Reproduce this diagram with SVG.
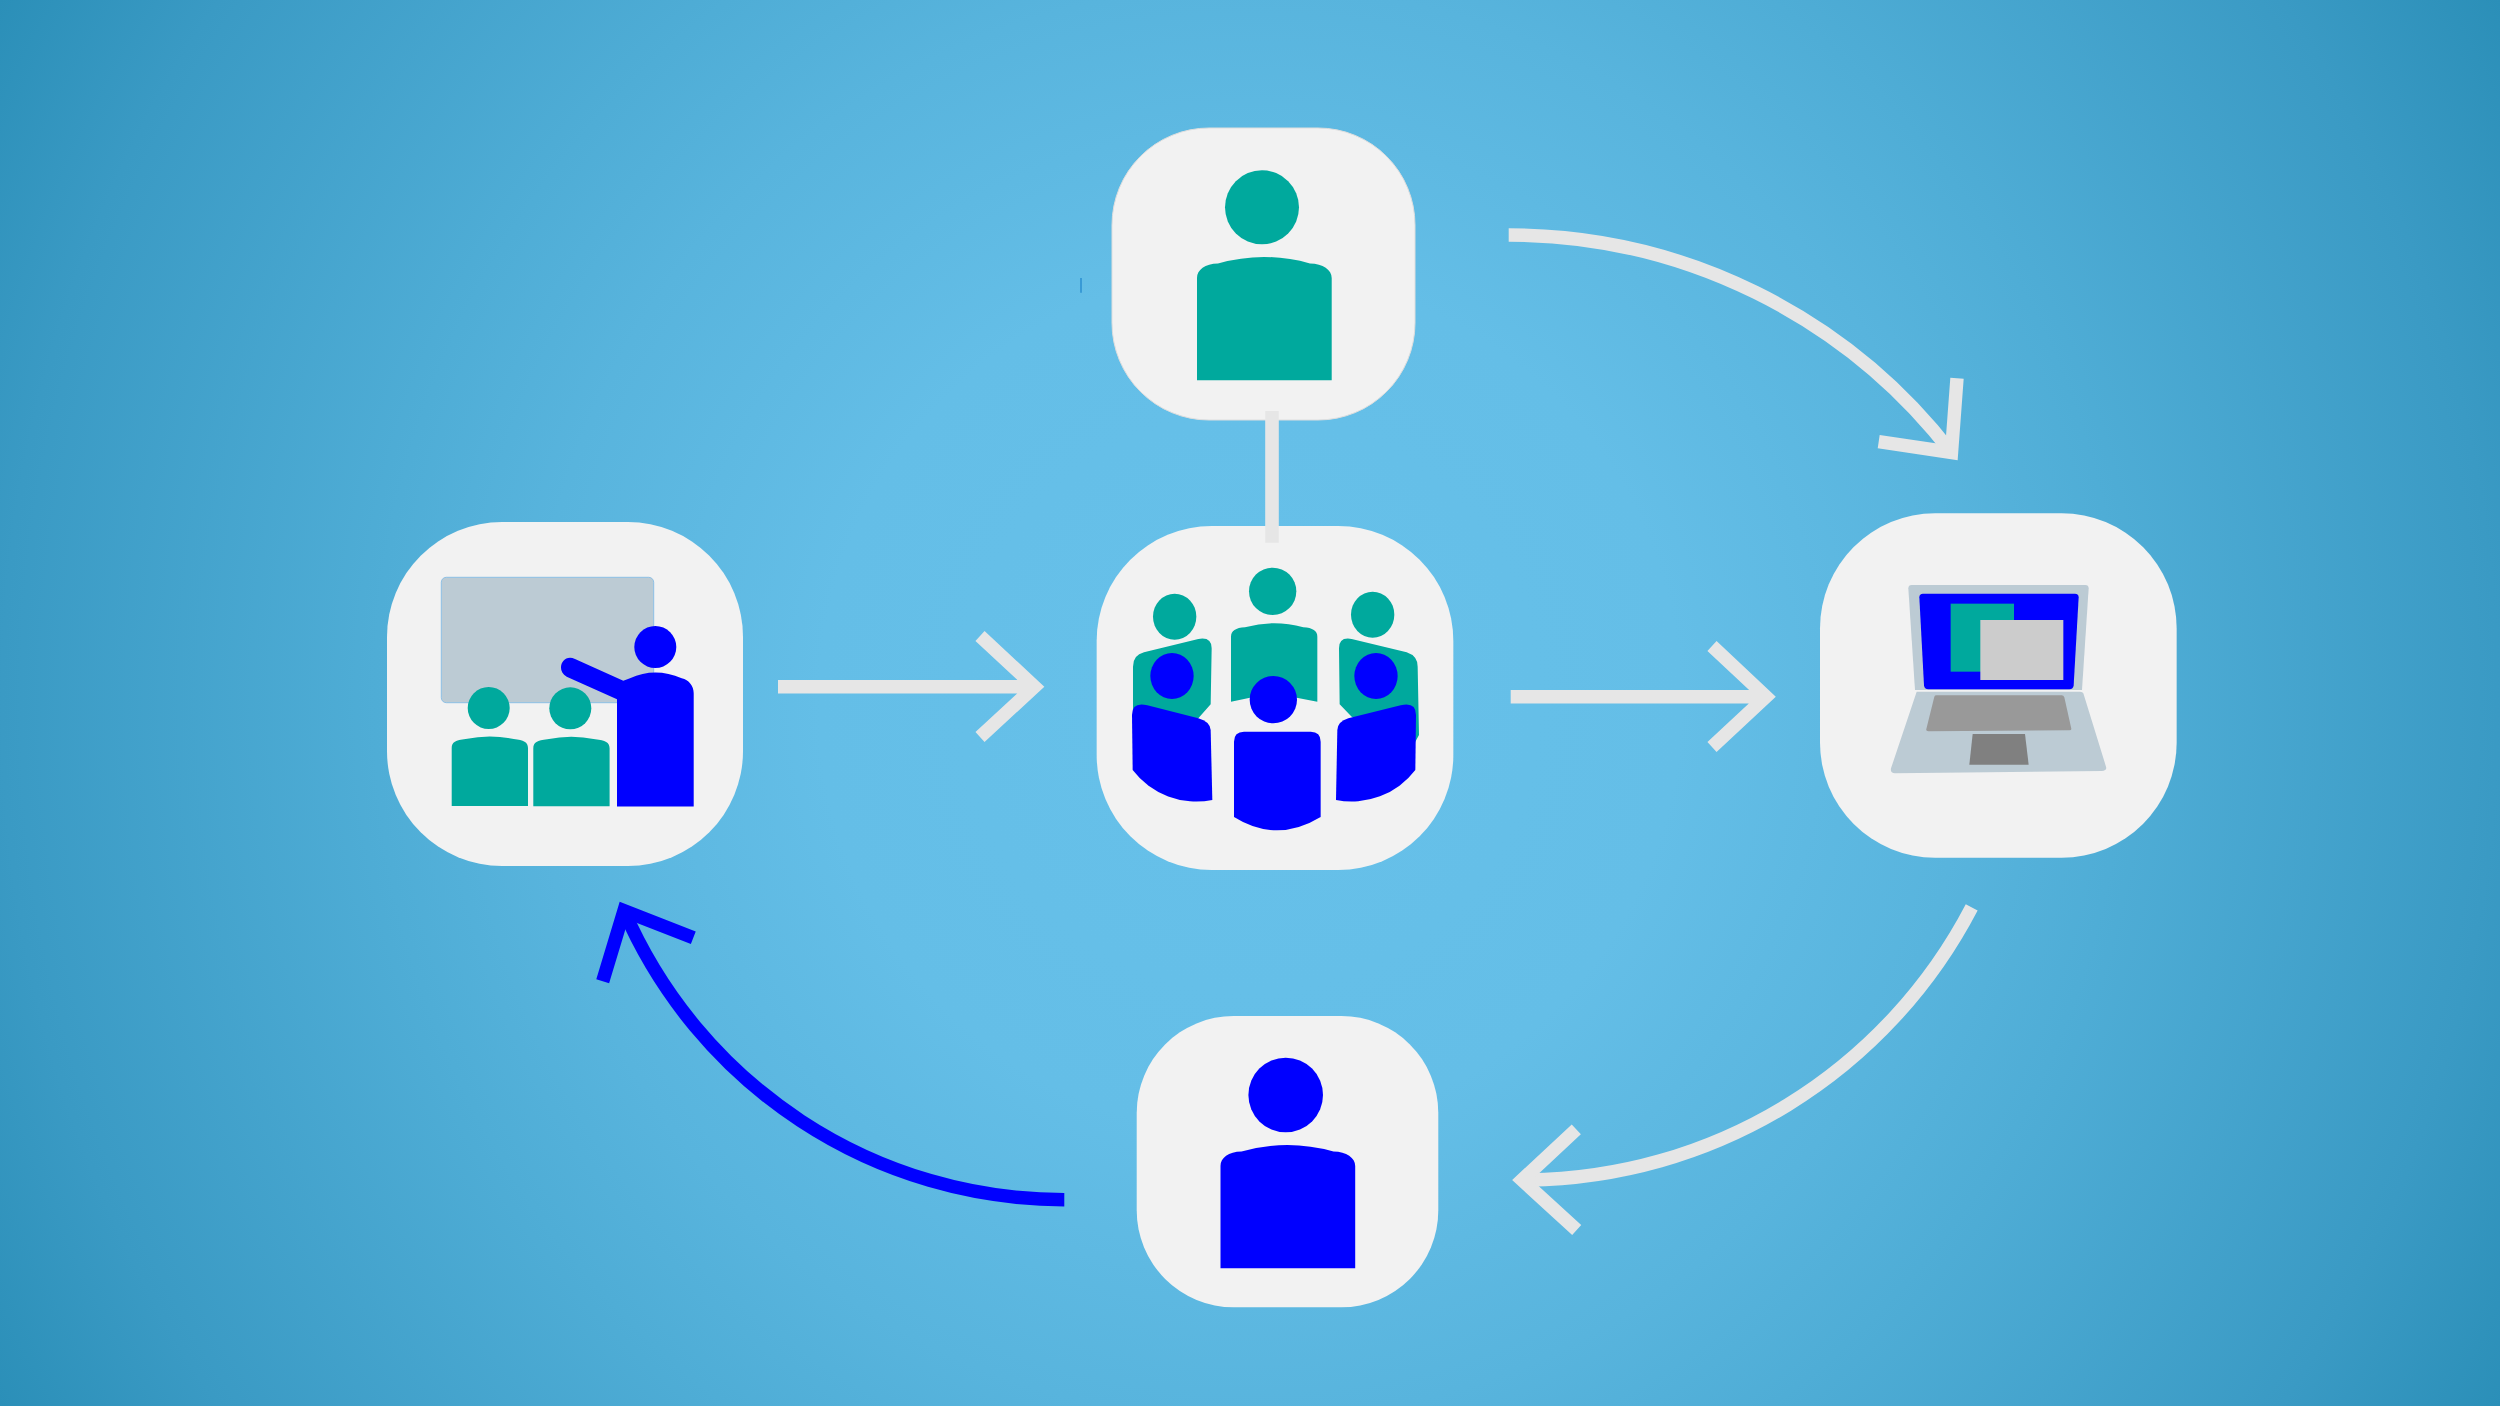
<svg xmlns="http://www.w3.org/2000/svg" width="2500" height="1406" viewBox="0 0 2500 1406">
<style>
.node{fill:#f2f2f2}
.edge{stroke:#dedede;stroke-width:1}
.teal{fill:#00a99d}
.blue{fill:#0000ff}
.link{fill:none;stroke:#e6e6e6;stroke-width:13.4;stroke-linejoin:miter;stroke-miterlimit:10}
.linkb{fill:none;stroke:#0000ff;stroke-width:13.4;stroke-linejoin:miter;stroke-miterlimit:10}
</style>
<defs>
<radialGradient id="bg" gradientUnits="userSpaceOnUse" cx="1250" cy="703" r="1434">
<stop offset="0" stop-color="#67c1ea"/>
<stop offset="0.3" stop-color="#64bee7"/>
<stop offset="0.5" stop-color="#58b4dd"/>
<stop offset="0.61" stop-color="#4fadd6"/>
<stop offset="0.87" stop-color="#3a9ac4"/>
<stop offset="1" stop-color="#2b8fb8"/>
</radialGradient>
<path id="body" d="M1197 380.3V278C1197 270 1205 263.5 1218 263.5Q1264 250.5 1310 263.5C1323 263.5 1331.7 270 1331.7 278V380.3Z"/>
<path id="seat" d="M0 70V12C0 6 4 4 14 3Q38 -2 62 3C72 4 76.3 6 76.3 12V70Z"/>
</defs>
<rect id="background" width="2500" height="1406" fill="url(#bg)"/>

<g id="node-classroom">
<rect class="node" x="387" y="522" width="356" height="344" rx="115"/>
<rect x="441.3" y="577.3" width="212.4" height="125.4" rx="5" fill="#bccbd4" stroke="#8dc0e6" stroke-width="1"/>
<circle class="teal" cx="488.7" cy="708" r="21"/>
<circle class="teal" cx="570.3" cy="708.3" r="21"/>
<use href="#seat" class="teal" x="451.7" y="736"/>
<use href="#seat" class="teal" x="533.3" y="736.3"/>
<circle class="blue" cx="655.3" cy="647" r="21"/>
<path class="blue" d="M617 806.5V699.3L566.7 676.7C555 670 563 653 575 659L623.3 680.7L630 678.3Q655 666.5 681.7 678.3C689 680 693.7 686 693.7 693.3V806.5Z"/>
</g>

<g id="node-group" transform="translate(1070 400) scale(.33333)">
<rect class="node" x="80" y="378" width="1070" height="1032" rx="345"/>
<ellipse class="teal" cx="314" cy="650" rx="65" ry="69"/>
<ellipse class="teal" cx="608" cy="574" rx="71" ry="71"/>
<ellipse class="teal" cx="908" cy="644" rx="65" ry="69"/>
<path class="teal" d="M483 905V710Q483 684 525 682Q612 657 700 682Q742 684 742 710V905L680 893H540Z"/>
<path class="teal" d="M189 1000V800Q189 765 222 757L385 717Q425 710 425 745L422 913L385 955L200 1000Z"/>
<path class="teal" d="M807 745Q807 710 845 717L1010 757Q1043 768 1043 800L1047 1005L1036 1025L845 950L809 913Z"/>
<path class="blue" d="M188 1110L186 945Q186 905 232 916L385 955Q420 965 422 990L427 1200A240 240 0 0 1 188 1110Z"/>
<path class="blue" d="M1036 1110L1038 945Q1038 905 992 916L835 955Q803 965 802 990L798 1200A240 240 0 0 0 1036 1110Z"/>
<path class="blue" d="M492 1251V1025Q492 995 522 995H722Q752 995 752 1025V1251Q620 1331 492 1251Z"/>
<ellipse class="blue" cx="306" cy="828" rx="65" ry="69"/>
<circle class="blue" cx="610" cy="899" r="71"/>
<ellipse class="blue" cx="918" cy="828" rx="65" ry="69"/>
</g>

<g id="node-laptop" transform="translate(1800 500) scale(.33333)">
<rect class="node" x="60" y="40" width="1070" height="1033" rx="345"/>
<path fill="#bccbd4" d="M325 265Q325 255 335 255H856Q866 255 866 265L846 570H345Z"/>
<path fill="#bccbd4" d="M350 575L273 805Q270 820 285 820L905 813Q922 812 918 800L850 580Q848 575 840 575Z"/>
<path class="blue" d="M358 292Q358 281 369 281H825Q836 281 836 292L821 556Q820 568 808 568H385Q373 568 372 556Z"/>
<rect class="teal" x="452" y="311" width="190" height="204"/>
<rect x="541" y="360" width="249" height="180" fill="#cccccc"/>
<path fill="#999999" d="M403 590Q404 586 410 586H785Q791 586 793 592L814 686Q815 691 808 691L385 694Q377 694 379 687Z"/>
<path fill="#808080" d="M518 702H675L686 794H508Z"/>
</g>

<g id="node-teal-person">
<rect class="node edge" x="1112" y="128" width="303" height="292" rx="97"/>
<circle class="teal" cx="1262" cy="207.3" r="37"/>
<use href="#body" class="teal"/>
</g>

<g id="node-blue-person">
<rect class="node" x="1136.7" y="1016" width="301.6" height="291.3" rx="97"/>
<circle class="blue" cx="1285.7" cy="1095" r="37.3"/>
<use href="#body" class="blue" x="23.5" y="888"/>
</g>

<g id="connectors">
<path class="link" d="M778 686.7H1034M980 636L1034.5 686.7L980 737"/>
<path class="link" d="M1510.7 696.7H1766M1712 646L1766 696.7L1712 747"/>
<path class="link" d="M1508.7 235A559.5 559.5 0 0 1 1951.5 452.5"/>
<path class="link" d="M1957 378.3L1951.5 452.5L1878.7 441.7"/>
<path class="link" d="M1971.7 907.3A507 507 0 0 1 1528 1180"/>
<path class="link" d="M1576.3 1129.3L1522 1180L1576.7 1230"/>
<path class="linkb" d="M1064.3 1199.7A480 480 0 0 1 624 910.7"/>
<path class="linkb" d="M602.7 981.3L624 910.7L693.3 937.7"/>
<line x1="1272" y1="411" x2="1272" y2="542.7" stroke="#e6e6e6" stroke-width="13.6"/>
<line x1="1081" y1="278" x2="1081" y2="292.7" stroke="#2a8fd0" stroke-width="1.5"/>
</g>
</svg>
